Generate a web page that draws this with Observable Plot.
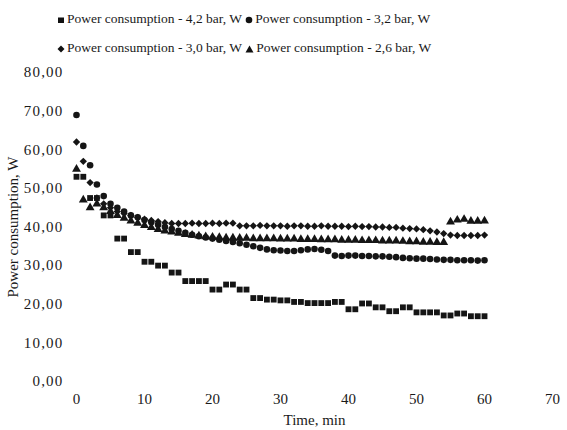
<!DOCTYPE html>
<html>
<head>
<meta charset="utf-8">
<script src="https://cdn.jsdelivr.net/npm/d3@7"></script>
<script src="https://cdn.jsdelivr.net/npm/@observablehq/plot@0.6"></script>
<style>
  html, body { margin: 0; padding: 0; background: #fff; }
  body { width: 567px; height: 430px; overflow: hidden; font-family: "Liberation Serif", "Times New Roman", serif; color: #1a1a1a; }
  #legend { height: 60px; box-sizing: border-box; padding-top: 4px; padding-left: 57px; font-size: 13.5px; line-height: 29px; }
  .item { white-space: nowrap; }
  .item svg { vertical-align: -1px; margin-right: 2px; }
  .yt text { letter-spacing: 1.2px; }
</style>
</head>
<body>
<div id="legend"></div>
<div id="chart"></div>
<script>
const times = [0,1,2,3,4,5,6,7,8,9,10,11,12,13,14,15,16,17,18,19,20,21,22,23,24,25,26,27,28,29,30,31,32,33,34,35,36,37,38,39,40,41,42,43,44,45,46,47,48,49,50,51,52,53,54,55,56,57,58,59,60];

const seriesNames = [
  "Power consumption - 4,2 bar, W",
  "Power consumption - 3,2 bar, W",
  "Power consumption - 3,0 bar, W",
  "Power consumption - 2,6 bar, W"
];
const seriesSymbols = ["square", "circle", "diamond2", "triangle"];

const p42 = [53,53,47.5,47.5,43,43,37,37,33.5,33.5,31,31,30,30,28.2,28.2,26,26,26,26,23.8,23.8,25.1,25.1,23.8,23.8,21.6,21.6,21.2,21.2,21,21,20.6,20.6,20.3,20.3,20.3,20.3,20.6,20.6,18.7,18.7,20.2,20.2,19.2,19.2,18.2,18.2,19.2,19.2,17.9,17.9,17.9,17.9,17.1,17.1,17.6,17.6,16.9,16.9,16.9];
const p32 = [69,61,56,51,48,46,45,44,43,42.5,41.8,41.2,40.6,40,39.5,39,38.5,38,37.6,37.3,37,36.7,36.4,36.1,35.8,35.4,35,34.6,34.2,34,33.9,33.8,33.8,34,34.2,34.3,34.1,33.8,32.6,32.5,32.6,32.6,32.5,32.5,32.4,32.4,32.3,32.2,32,31.9,31.8,31.8,31.7,31.6,31.5,31.5,31.4,31.4,31.4,31.3,31.4];
const p30 = [62,57,51.5,47.5,46,45,44,43.5,43,42.5,42,41.7,41.4,41.1,40.9,40.9,40.9,41,40.9,40.9,41,40.9,41,41,40.3,40.3,40.3,40.4,40.3,40.3,40.3,40.2,40.3,40.3,40.2,40.2,40.3,40.2,40.2,40.2,40.1,40.2,40.1,40.1,40,40,39.9,39.9,39.7,39.6,39.5,39.3,39,38.7,38.3,37.9,37.8,37.8,37.8,37.8,37.9];
const p26 = [55,47,45,46,45,44,43,42.3,41.6,41,40.4,39.9,39.4,39,38.7,38.4,38.1,37.9,37.7,37.5,37.4,37.3,37.2,37.2,37.1,37.1,37,37,37,37,36.9,36.9,36.9,36.8,36.8,36.8,36.7,36.7,36.7,36.6,36.6,36.6,36.5,36.5,36.5,36.4,36.4,36.4,36.3,36.2,36.2,36.1,36.1,36,36,41.3,41.8,42,41.5,41.5,41.6];

const xTicks = [0,10,20,30,40,50,60,70];
const yTicks = [0,10,20,30,40,50,60,70,80];

const seriesValues = [p42, p32, p30, p26];
const data = [];
seriesValues.forEach((vals, si) => {
  vals.forEach((v, i) => data.push({series: seriesNames[si], sym: seriesSymbols[si], t: times[i], v}));
});

// Legend (HTML, above the SVG)
const legendGlyph = {
  square: '<svg width="8" height="8"><rect x="1" y="1.5" width="6" height="5.5" fill="#111"/></svg>',
  circle: '<svg width="8" height="8"><circle cx="4" cy="4" r="3.3" fill="#111"/></svg>',
  diamond2: '<svg width="8" height="8"><path d="M4 0.5 L7.5 4 L4 7.5 L0.5 4 Z" fill="#111"/></svg>',
  triangle: '<svg width="9" height="8"><path d="M4.5 0.5 L8.5 7.5 L0.5 7.5 Z" fill="#111"/></svg>'
};
const legend = document.getElementById("legend");
const rows = [[0, 1], [2, 3]];
legend.innerHTML = rows.map(r => "<div>" + r.map(i =>
  `<span class="item">${legendGlyph[seriesSymbols[i]]}${seriesNames[i]}</span>`).join(" ") + "</div>").join("");

const fmt = d => d.toFixed(2).replace(".", ",");

const chart = Plot.plot({
  width: 567,
  height: 370,
  marginLeft: 76,
  marginRight: 15,
  marginTop: 12,
  marginBottom: 49,
  style: {fontFamily: "'Liberation Serif', 'Times New Roman', serif", fontSize: "14px", color: "#1a1a1a", background: "#fff"},
  x: {domain: [0, 70]},
  y: {domain: [0, 80]},
  symbol: {domain: seriesSymbols, range: seriesSymbols},
  marks: [
    Plot.axisX({ticks: xTicks, tickSize: 0, tickPadding: 12, tickFormat: d => String(d), label: null, fontSize: 15}),
    Plot.axisX({ticks: [], tickSize: 0, label: "Time, min", labelAnchor: "center", labelArrow: "none", labelOffset: 43, fontSize: 15}),
    Plot.axisY({ticks: yTicks, tickSize: 0, tickPadding: 13, tickFormat: fmt, label: null, fontSize: 15, className: "yt"}),
    Plot.axisY({ticks: [], tickSize: 0, label: "Power consumption, W", labelAnchor: "center", labelArrow: "none", labelOffset: 69, fontSize: 15}),
    Plot.dot(data, {x: "t", y: "v", symbol: "sym", r: 3.3, fill: "#151515", stroke: "none"})
  ]
});
document.getElementById("chart").appendChild(chart);
</script>
</body>
</html>
